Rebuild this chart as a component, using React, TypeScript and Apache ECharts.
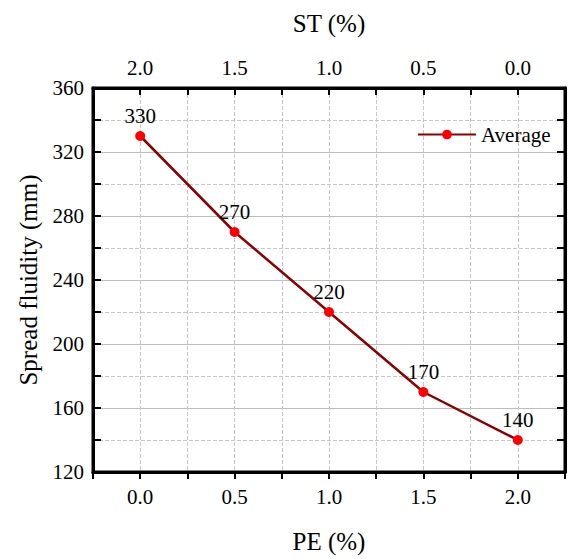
import React, { useEffect, useRef } from "react";
import * as echarts from "echarts";

const peValues = [0, 0.5, 1.0, 1.5, 2.0];
const fluidity = [330, 270, 220, 170, 140];
const seriesName = "Average";

const FONT = "Liberation Serif";

const isHalf = (v: number) => Math.abs(v * 2 - Math.round(v * 2)) < 1e-6;
const isForty = (v: number) => Math.abs(v / 40 - Math.round(v / 40)) < 1e-6;

export default function App() {
  const ref = useRef<HTMLDivElement>(null);
  useEffect(() => {
    if (!ref.current) return;
    const chart = echarts.init(ref.current, null, { renderer: "svg" });
    chart.setOption({
      animation: false,
      backgroundColor: "#fff",
      textStyle: { fontFamily: FONT },
      grid: {
        left: 93,
        right: 3,
        top: 88,
        bottom: 87,
        show: true,
        borderColor: "#000",
        borderWidth: 3,
        backgroundColor: "transparent",
      },
      legend: {
        data: [seriesName],
        left: 412,
        top: 119,
        itemWidth: 58,
        itemHeight: 12,
        textStyle: { fontFamily: FONT, fontSize: 21, color: "#000" },
      },
      xAxis: [
        {
          type: "value",
          min: -0.25,
          max: 2.25,
          interval: 0.25,
          position: "bottom",
          name: "PE (%)",
          nameLocation: "middle",
          nameGap: 57,
          nameTextStyle: { fontFamily: FONT, fontSize: 25, color: "#000" },
          axisLine: { show: true, onZero: false, lineStyle: { color: "#000", width: 3 } },
          axisTick: { show: true, inside: false, length: 7, lineStyle: { color: "#000", width: 2 } },
          axisLabel: {
            margin: 14,
            fontFamily: FONT,
            fontSize: 21,
            color: "#000",
            formatter: (v: number) => (isHalf(v) && v >= 0 && v <= 2 ? v.toFixed(1) : ""),
          },
          splitLine: { show: true, lineStyle: { color: "#c8c8c8", type: "dashed", width: 1 } },
        },
        {
          type: "value",
          min: -0.25,
          max: 2.25,
          interval: 0.25,
          position: "top",
          name: "ST (%)",
          nameLocation: "middle",
          nameGap: 52,
          nameTextStyle: { fontFamily: FONT, fontSize: 25, color: "#000" },
          axisLine: { show: true, onZero: false, lineStyle: { color: "#000", width: 3 } },
          axisTick: { show: true, inside: true, length: 7, lineStyle: { color: "#000", width: 2 } },
          axisLabel: {
            margin: 10,
            fontFamily: FONT,
            fontSize: 21,
            color: "#000",
            formatter: (v: number) => (isHalf(v) && v >= 0 && v <= 2 ? (2 - v).toFixed(1) : ""),
          },
          splitLine: { show: false },
        },
      ],
      yAxis: [
        {
          type: "value",
          min: 120,
          max: 360,
          interval: 20,
          position: "left",
          name: "Spread fluidity (mm)",
          nameLocation: "middle",
          nameGap: 52,
          nameTextStyle: { fontFamily: FONT, fontSize: 25, color: "#000" },
          axisLine: { show: true, onZero: false, lineStyle: { color: "#000", width: 3 } },
          axisTick: { show: true, inside: true, length: 8, lineStyle: { color: "#000", width: 2 } },
          axisLabel: {
            margin: 9,
            fontFamily: FONT,
            fontSize: 21,
            color: "#000",
            formatter: (v: number) => (isForty(v) ? String(v) : ""),
          },
          splitLine: { show: true, lineStyle: { color: "#c8c8c8", type: "dashed", width: 1 } },
        },
        {
          type: "value",
          min: 120,
          max: 360,
          interval: 20,
          position: "right",
          axisLine: { show: true, onZero: false, lineStyle: { color: "#000", width: 3 } },
          axisTick: { show: true, inside: true, length: 8, lineStyle: { color: "#000", width: 2 } },
          axisLabel: { show: false },
          splitLine: { show: false },
        },
        {
          type: "value",
          min: 120,
          max: 360,
          interval: 40,
          position: "left",
          axisLine: { show: false, onZero: false },
          axisTick: { show: false },
          axisLabel: { show: false },
          splitLine: { show: true, lineStyle: { color: "#bdbdbd", type: "solid", width: 1 } },
        },
      ],
      series: [
        {
          name: seriesName,
          type: "line",
          xAxisIndex: 0,
          yAxisIndex: 0,
          data: peValues.map((x, i) => [x, fluidity[i]]),
          symbol: "circle",
          symbolSize: 10,
          lineStyle: { color: "#8b0000", width: 2.5 },
          itemStyle: { color: "#ff0000" },
          label: {
            show: true,
            position: "top",
            distance: 5,
            fontFamily: FONT,
            fontSize: 21,
            color: "#000",
          },
        },
      ],
    });
    return () => chart.dispose();
  }, []);
  return (
    <div
      ref={ref}
      style={{ position: "absolute", left: 0, top: 0, width: 568, height: 559, overflow: "hidden" }}
    />
  );
}
